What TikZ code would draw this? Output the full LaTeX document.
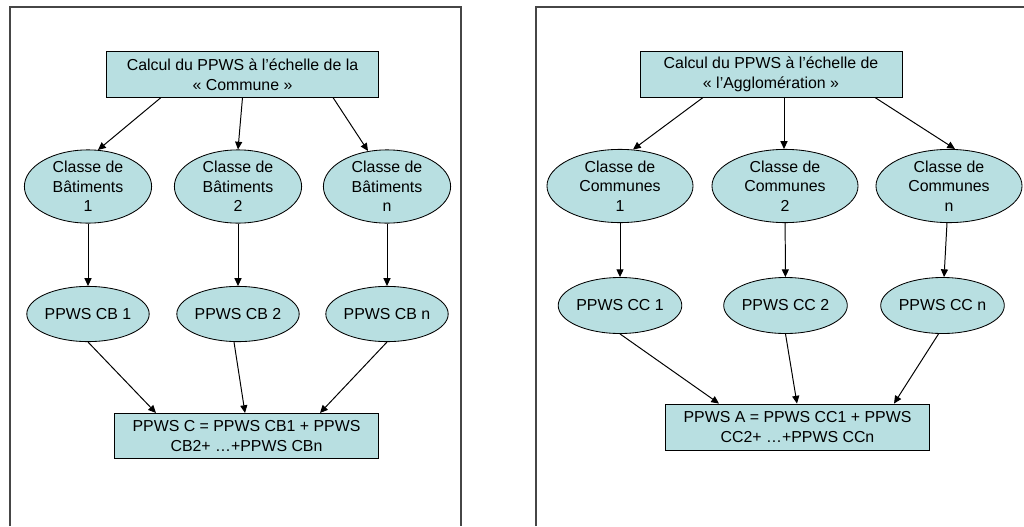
\documentclass[tikz,border=0pt]{standalone}
\usepackage{fontspec}
\setmainfont{Liberation Sans}
\usetikzlibrary{shapes.geometric,arrows.meta,calc}
\definecolor{boxfill}{RGB}{184,223,225}
\definecolor{framegray}{RGB}{70,70,70}
\begin{document}
\begin{tikzpicture}[x=0.025cm,y=-0.025cm,
  font=\fontsize{11.3pt}{14pt}\selectfont,
  base/.style={draw=black,fill=boxfill,line width=0.6pt,inner sep=0pt,align=center},
  calcbox/.style={base,rectangle,minimum height=1.13cm},
  ell/.style={base,ellipse,inner ysep=-3pt},
  arr/.style={-{Triangle[length=5.5pt,width=5pt]},line width=0.7pt}]
  \useasboundingbox (0,0) rectangle (1024,526);
  % frames
  \draw[framegray,line width=0.8pt] (10,526) -- (10,7) -- (461,7) -- (461,526);
  \draw[framegray,line width=0.8pt] (536,526) -- (536,7) -- (1024,7);

  % left: commune
  \node[calcbox,minimum width=6.78cm] (topL) at (242.5,74.5) {Calcul du PPWS à l’échelle de la\\« Commune »};
  \foreach \n/\x/\t in {1/88/1,2/238/2,3/387/n} {
    \node[ell,minimum width=3.18cm,minimum height=1.83cm] (bL\n) at (\x,186.5) {Classe de\\Bâtiments\\\t};
    \node[ell,minimum width=2.95cm,minimum height=1.38cm] (pL\n) at (\x,314) {PPWS CB \t};
    \draw[arr] (bL\n) -- (pL\n);
  }
  \node[calcbox,minimum width=6.58cm] (sumL) at (246.5,436) {PPWS C = PPWS CB1 + PPWS\\CB2+ …+PPWS CBn};
  \draw[arr] ($(topL.south)+(-81.5,0)$) -- ($(bL1.north)+(10,0.5)$);
  \draw[arr] (topL.south) -- (bL2.north);
  \draw[arr] ($(topL.south)+(90.5,0)$) -- ($(bL3.north)+(-19,1.5)$);
  \draw[arr] (pL1.south) -- ($(sumL.north)+(-90.5,0)$);
  \draw[arr] ($(pL2.south)+(-4,0)$) -- ($(sumL.north)+(-1.5,0)$);
  \draw[arr] (pL3.south) -- ($(sumL.north)+(73.5,0)$);

  % right: agglomeration
  \node[calcbox,minimum width=6.55cm] (topR) at (771,74.5) {Calcul du PPWS à l’échelle de\\« l’Agglomération »};
  \foreach \n/\x/\xp/\t in {1/620/620/1,2/785/785.5/2,3/949/942.5/n} {
    \node[ell,minimum width=3.65cm,minimum height=1.83cm] (cR\n) at (\x,186) {Classe de\\Communes\\\t};
    \node[ell,minimum width=2.95cm,minimum height=1.4cm] (pR\n) at (\xp,305.5) {PPWS CC \t};
    \draw[arr] (cR\n) -- (pR\n);
  }
  \node[calcbox,minimum width=6.58cm,minimum height=1.15cm] (sumR) at (797.5,427) {PPWS A = PPWS CC1 + PPWS\\CC2+ …+PPWS CCn};
  \draw[arr] ($(topR.south)+(-68,0)$) -- ($(cR1.north)+(13,0.5)$);
  \draw[arr] ($(topR.south)+(13,0)$) -- ($(cR2.north)+(-1,0)$);
  \draw[arr] ($(topR.south)+(104,0)$) -- ($(cR3.north)+(6,0)$);
  \draw[arr] (pR1.south) -- ($(sumR.north)+(-78.5,0)$);
  \draw[arr] (pR2.south) -- ($(sumR.north)+(-0.5,0)$);
  \draw[arr] ($(pR3.south)+(-4,0)$) -- ($(sumR.north)+(96.5,0)$);
\end{tikzpicture}
\end{document}
